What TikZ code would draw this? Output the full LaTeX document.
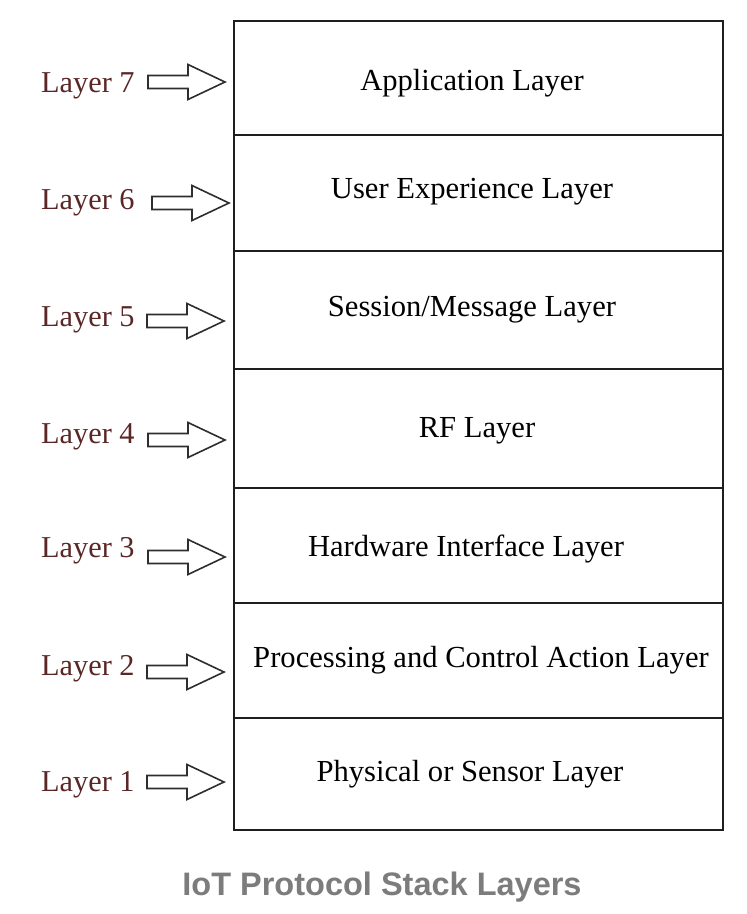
\documentclass[tikz,border=0pt]{standalone}
\usepackage{fontspec}
\setmainfont{Liberation Serif}
\newfontfamily\titlefont{Liberation Sans}
\definecolor{labelred}{HTML}{5A2626}
\definecolor{linegray}{HTML}{1E1E1E}
\definecolor{titlegray}{HTML}{7C7C7C}
\definecolor{arrowgray}{HTML}{2E2E2E}
\tikzset{
  stackrow/.style={draw=linegray, line width=2.1pt, fill=white},
  rowtext/.style={anchor=base, font=\fontsize{30.6}{36}\selectfont, text=black, inner sep=0pt},
  layerlabel/.style={anchor=base west, font=\fontsize{30.3}{36}\selectfont, text=labelred, inner sep=0pt},
  blockarrow/.pic={\draw[draw=arrowgray, line width=1.6pt, line join=miter, fill=white]
     (0,-6.5) -- (40,-6.5) -- (40,-17.5) -- (77,0) -- (40,17.5) -- (40,6.5) -- (0,6.5) -- cycle;},
}
\begin{document}
\begin{tikzpicture}[x=1pt, y=-1pt]
\useasboundingbox (0,0) rectangle (747,914);
% rows
\draw[stackrow] (234,21) rectangle (723,135);
\draw[stackrow] (234,135) rectangle (723,251);
\draw[stackrow] (234,251) rectangle (723,369);
\draw[stackrow] (234,369) rectangle (723,488);
\draw[stackrow] (234,488) rectangle (723,603);
\draw[stackrow] (234,603) rectangle (723,718);
\draw[stackrow] (234,718) rectangle (723,830);
% row texts
\node[rowtext] (t7) at (472,90) {Application Layer};
\node[rowtext] (t6) at (472,198) {User Experience Layer};
\node[rowtext] (t5) at (472,316) {Session/Message Layer};
\node[rowtext] (t4) at (477,437) {RF Layer};
\node[rowtext] (t3) at (466,556) {Hardware Interface Layer};
\node[rowtext] (t2) at (481,667) {Processing and Control Action Layer};
\node[rowtext] (t1) at (470,781) {Physical or Sensor Layer};
% labels
\node[layerlabel] (l7) at (41,92) {Layer 7};
\node[layerlabel] (l6) at (41,209) {Layer 6};
\node[layerlabel] (l5) at (41,326) {Layer 5};
\node[layerlabel] (l4) at (41,443) {Layer 4};
\node[layerlabel] (l3) at (41,557) {Layer 3};
\node[layerlabel] (l2) at (41,675) {Layer 2};
\node[layerlabel] (l1) at (41,791) {Layer 1};
% arrows
\pic at (148,82) {blockarrow};
\pic at (152,203) {blockarrow};
\pic at (147,321) {blockarrow};
\pic at (148,440) {blockarrow};
\pic at (148,557) {blockarrow};
\pic at (147,672) {blockarrow};
\pic at (147,782) {blockarrow};
% title
\node[font=\titlefont\bfseries\fontsize{32.5}{38}\selectfont, text=titlegray, anchor=base] (title) at (382,895) {IoT Protocol Stack Layers};
\end{tikzpicture}
\end{document}
